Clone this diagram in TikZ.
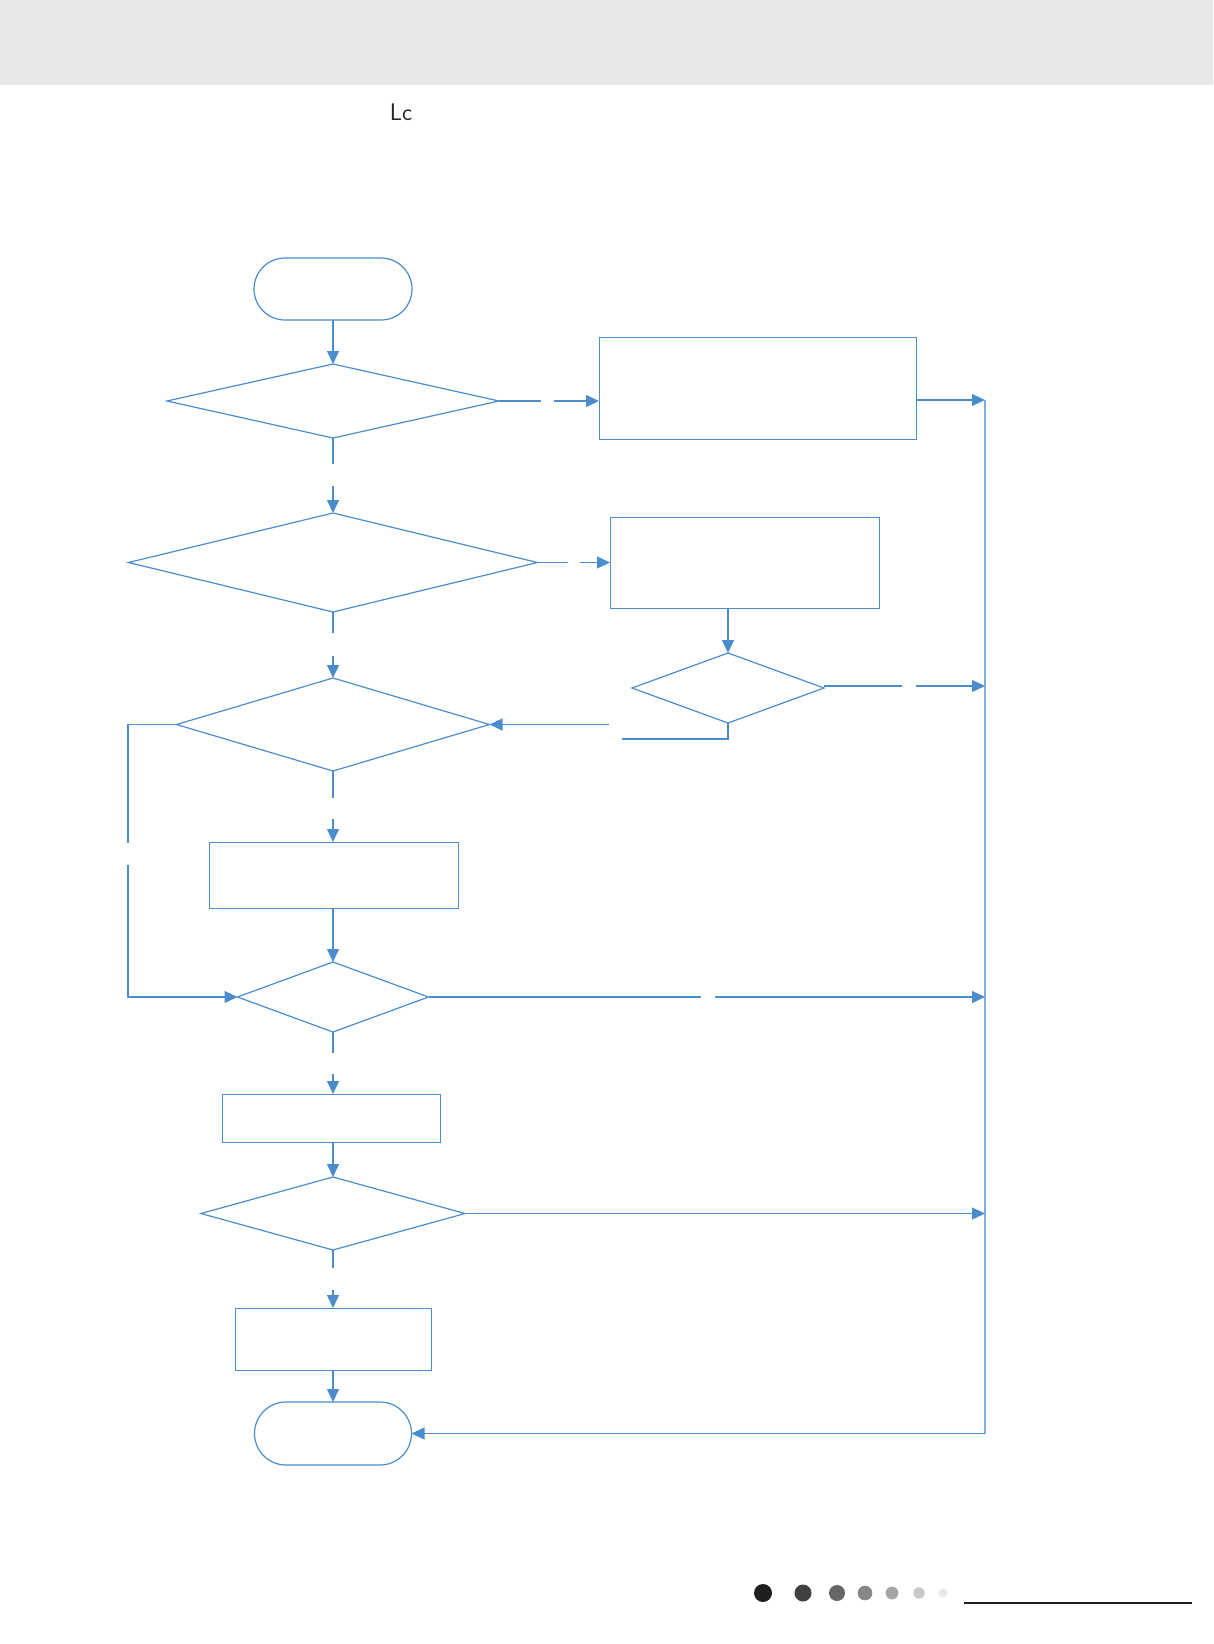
\documentclass[tikz,border=0pt]{standalone}
\usetikzlibrary{shapes.geometric,shapes.misc,arrows.meta}
\definecolor{flow}{RGB}{74,140,204}
\definecolor{flowlight}{RGB}{130,176,222}
\definecolor{band}{RGB}{232,232,232}
\begin{document}
\begin{tikzpicture}[x=1pt,y=-1pt,
  ln/.style={draw=flow,line width=1.2pt},
  arr/.style={ln,-{Triangle[length=13pt,width=12pt]}},
  box/.style={draw=flow,line width=1pt,rectangle,inner sep=0pt,outer sep=0pt},
  dia/.style={draw=flow,line width=1.2pt,diamond,inner sep=0pt,outer sep=0pt},
  term/.style={draw=flow,line width=1.2pt,rounded rectangle,inner sep=0pt,outer sep=0pt}]
\useasboundingbox (0,0) rectangle (1213,1644);
\fill[band] (0,0) rectangle (1213,85);
\node[text=black!85,font=\sffamily\fontsize{24}{24}\selectfont,anchor=base] (lc) at (401,120) {Lc};

% nodes
\node[term,minimum width=158pt,minimum height=62pt] (start) at (333,289) {};
\node[dia,minimum width=332pt,minimum height=74pt] (d1) at (333,401) {};
\node[box,minimum width=317pt,minimum height=102pt] (box1) at (757.5,388) {};
\node[dia,minimum width=409pt,minimum height=99pt] (d2) at (333,562.5) {};
\node[box,minimum width=269pt,minimum height=91pt] (box2) at (744.5,562.5) {};
\node[dia,minimum width=192pt,minimum height=70pt] (d3) at (728,688) {};
\node[dia,minimum width=313pt,minimum height=93pt] (m3) at (333,724.5) {};
\node[box,minimum width=249pt,minimum height=66pt] (box3) at (333.5,875) {};
\node[dia,minimum width=191pt,minimum height=70pt] (m4) at (333,997) {};
\node[box,minimum width=218pt,minimum height=48pt] (box4) at (331,1118) {};
\node[dia,minimum width=264pt,minimum height=73pt] (d5) at (333,1213.5) {};
\node[box,minimum width=196pt,minimum height=62pt] (box5) at (333,1339) {};
\node[term,minimum width=157pt,minimum height=63pt] (end) at (333,1433.5) {};

% right collector line
\coordinate (r1) at (985,400);
\coordinate (r3) at (985,686);
\coordinate (r4) at (985,997);
\coordinate (r5) at (985,1213.5);
\coordinate (rend) at (985,1433.5);
\draw[draw=flowlight,line width=1.1pt] (r1) -- (rend);
\draw[arr] (rend) -- (end.east);

% connectors
\draw[arr] (start.south) -- (d1.north);
\draw[ln] (d1.east) -- ++(42,0);
\draw[arr] ([xshift=55pt]d1.east) -- (d1.east -| box1.west);
\draw[arr] (box1.east |- r1) -- (r1);

\draw[ln] (d1.south) -- ++(0,26);
\draw[arr] ([yshift=-48pt]d1.south) -- (d2.north);
\draw[ln] (d2.east) -- ++(30,0);
\draw[arr] ([xshift=42pt]d2.east) -- (d2.east -| box2.west);
\draw[arr] (d3.north |- box2.south) -- (d3.north);
\draw[ln] (d3.east |- r3) -- ++(78,0);
\draw[arr] ([xshift=92pt]d3.east |- r3) -- (r3);
\coordinate (d3a) at (622,739);
\coordinate (d3b) at (609,724.5);
\draw[ln] (d3.south) -- (d3.south |- d3a) -- (d3a);
\draw[arr] (d3b) -- (m3.east);

\draw[ln] (d2.south) -- ++(0,21);
\draw[arr] ([yshift=-44pt]d2.south) -- (m3.north);
\coordinate (lA) at (128,843);
\coordinate (lB) at (128,865);
\draw[ln] (m3.west) -- (m3.west -| lA) -- (lA);
\draw[arr] (lB) -- (lB |- m4.west) -- (m4.west);
\draw[ln] (m3.south) -- ++(0,27);
\draw[arr] ([yshift=-48pt]m3.south) -- (box3.north -| m3.south);
\draw[arr] (box3.south -| m4.north) -- (m4.north);
\draw[ln] (m4.east) -- (701,997);
\draw[arr] (715,997) -- (r4);

\draw[ln] (m4.south) -- ++(0,21);
\draw[arr] ([yshift=-42pt]m4.south) -- (m4.south |- box4.north);
\draw[arr] (d5.north |- box4.south) -- (d5.north);
\draw[arr] (d5.east) -- (r5);
\draw[ln] (d5.south) -- ++(0,18);
\draw[arr] ([yshift=-40pt]d5.south) -- (box5.north);
\draw[arr] (box5.south) -- (end.north);

% footer
\fill[black!88] (763,1593) circle (9);
\fill[black!75] (803,1593) circle (8.5);
\fill[black!60] (837,1593) circle (8);
\fill[black!47] (865,1593) circle (7.3);
\fill[black!35] (892,1593) circle (6.4);
\fill[black!21] (919,1593) circle (5.7);
\fill[black!9] (943,1593) circle (4.4);
\draw[black!88,line width=2pt] (964,1603) -- (1192,1603);
\end{tikzpicture}
\end{document}
